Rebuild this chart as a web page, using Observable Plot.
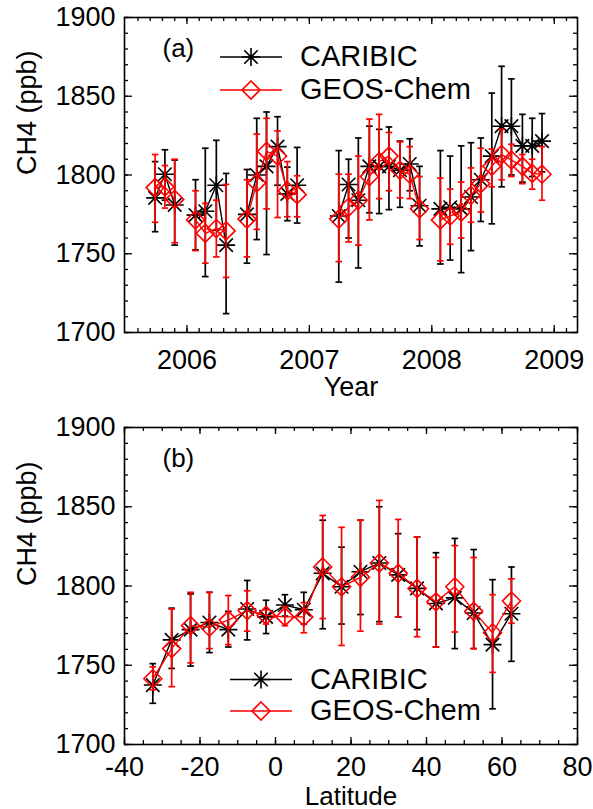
<!DOCTYPE html>
<html>
<head>
<meta charset="utf-8">
<script src="https://cdn.jsdelivr.net/npm/d3@7"></script>
<script src="https://cdn.jsdelivr.net/npm/@observablehq/plot@0.6"></script>
<style>
html, body { margin: 0; padding: 0; background: #fff; }
#chart { width: 593px; }
#chart svg { display: block; }
</style>
</head>
<body>
<div id="chart"></div>
<script>
// ---------- Panel (a): monthly means vs time (null = no data that month) ----------
const timeA = [2005.74, 2005.82, 2005.90, 2005.99, 2006.07, 2006.15, 2006.24, 2006.32, 2006.40,
  2006.49, 2006.57, 2006.65, 2006.74, 2006.82, 2006.90, 2006.99, 2007.07, 2007.15, 2007.24,
  2007.32, 2007.40, 2007.49, 2007.57, 2007.65, 2007.74, 2007.82, 2007.90, 2007.99, 2008.07,
  2008.15, 2008.24, 2008.32, 2008.40, 2008.49, 2008.57, 2008.65, 2008.74, 2008.82, 2008.90];
const caribicA = [1785.5, 1800.5, 1781, null, 1774.5, 1777, 1793.5, 1755.5, null,
  1775, 1800, 1805.5, 1818, 1788, 1793.5, null, null, null, 1774,
  1794, 1784, 1805.5, 1805.5, 1805.5, 1803, 1807, 1780.5, null, 1778.5,
  1779.5, 1778.5, 1786, 1797, 1812, 1831, 1831, 1818.5, 1818.5, 1821.5];
const caribicALo = [1764, 1784, 1755.5, null, 1752.5, 1735.5, 1765, 1712, null,
  1744, 1759, 1749.5, 1793.5, 1771, 1769.5, null, null, null, 1732,
  1760, 1741, 1776, 1775.5, 1778, 1779.5, 1790, 1755, null, 1743.5,
  1746, 1738, 1752, 1770.5, 1769, 1792.5, 1800, 1795.5, 1799, 1802];
const caribicAHi = [1808.5, 1816, 1809.5, null, 1797, 1817, 1822, 1801, null,
  1803.5, 1836, 1840, 1837, 1805, 1817.5, null, null, null, 1815.5,
  1810, 1823.5, 1831, 1829, 1830.5, 1821.5, 1823, 1805.5, null, 1815.5,
  1812, 1818.5, 1820.5, 1823.5, 1852, 1869, 1861, 1838.5, 1836, 1839];
const geosA = [1792, 1792.5, 1784.5, null, 1771.5, 1763, 1766, 1764.5, null,
  1772, 1795, 1815, 1812, 1790, 1787.5, null, null, null, 1772,
  1779.5, 1784, 1799, 1808.5, 1812, 1803, 1800.5, 1778.5, null, 1771.5,
  1774, 1776.5, 1787, 1794.5, 1805.5, 1813, 1809.5, 1805.5, 1801, 1800.5];
const geosALo = [1770, 1779, 1757, null, 1752, 1744, 1748, 1735, null,
  1748, 1765.5, 1778.5, 1773, 1773.5, 1773.5, null, null, null, 1745,
  1757.5, 1755.5, 1771.5, 1785, 1790, 1785.5, 1785, 1759, null, 1745.5,
  1756, 1760, 1770, 1776.5, 1792.5, 1797, 1799, 1794.5, 1791, 1784];
const geosAHi = [1813, 1806, 1810, null, 1790, 1782, 1784, 1794, null,
  1797, 1826, 1836, 1828, 1808.5, 1799.5, null, null, null, 1800.5,
  1800.5, 1812, 1835.5, 1838.5, 1827, 1821, 1818, 1799, null, 1798,
  1791, 1795.5, 1804.5, 1817, 1816.5, 1829, 1819.5, 1813, 1810, 1818];

// ---------- Panel (b): latitude bins ----------
const latB = [-32.5, -27.5, -22.5, -17.5, -12.5, -7.5, -2.5, 2.5, 7.5, 12.5,
  17.5, 22.5, 27.5, 32.5, 37.5, 42.5, 47.5, 52.5, 57.5, 62.5];
const caribicB = [1737.5, 1766, 1772.5, 1777, 1772.5, 1785.5, 1780.5, 1788, 1785, 1808,
  1799.5, 1809, 1814.5, 1807, 1798.5, 1789, 1792.5, 1783, 1763, 1782.5];
const caribicBLo = [1726, 1748, 1749.5, 1758, 1761.5, 1766, 1770, 1781, 1776, 1773,
  1776, 1782, 1777.5, 1780.5, 1772.5, 1761.5, 1760.5, 1760.5, 1722.5, 1752.5];
const caribicBHi = [1751, 1786, 1795, 1796, 1784, 1803.5, 1791, 1794.5, 1796, 1841.5,
  1824.5, 1841.5, 1850, 1833, 1831, 1821, 1830, 1823, 1804, 1812];
const geosB = [1741.5, 1760.5, 1775, 1774, 1778.5, 1784.5, 1781.5, 1780.5, 1780.5, 1812,
  1799.5, 1805.5, 1814.5, 1808, 1798.5, 1790, 1799.5, 1784, 1770.5, 1790.5];
const geosBLo = [1734.5, 1736.5, 1751.5, 1760.5, 1763, 1771.5, 1776, 1775, 1770.5, 1779.5,
  1762.5, 1771.5, 1776, 1780.5, 1768, 1761.5, 1771, 1760.5, 1745.5, 1776.5];
const geosBHi = [1749, 1785.5, 1796, 1796, 1794, 1797, 1785, 1787, 1789.5, 1844.5,
  1837, 1841.5, 1854, 1842, 1831, 1818, 1825.5, 1818, 1794.5, 1804.5];

// ---------- Axes / labels ----------
const yearTicks = [2006, 2007, 2008, 2009];
const latTicks = [-40, -20, 0, 20, 40, 60, 80];
const ch4Ticks = [1700, 1750, 1800, 1850, 1900];
const seriesNames = ["CARIBIC", "GEOS-Chem"];
const yTitle = "CH4 (ppb)";

// ---------- symbols ----------
const asterisk = {draw(ctx, size) {
  const r = Math.sqrt(size / Math.PI), d = r * 0.75;
  ctx.moveTo(-r, 0); ctx.lineTo(r, 0);
  ctx.moveTo(0, -r); ctx.lineTo(0, r);
  ctx.moveTo(-d, -d); ctx.lineTo(d, d);
  ctx.moveTo(-d, d); ctx.lineTo(d, -d);
}};
const diamond = {draw(ctx, size) {
  const r = Math.sqrt(size / Math.PI);
  ctx.moveTo(0, -r); ctx.lineTo(r, 0); ctx.lineTo(0, r); ctx.lineTo(-r, 0); ctx.closePath();
}};
const cap = {draw(ctx, size) {
  const r = Math.sqrt(size / Math.PI);
  ctx.moveTo(-r, 0); ctx.lineTo(r, 0);
}};

const FONT = "'Liberation Sans', Arial, Helvetica, sans-serif";
const FS = 27;
const W = 593, ML = 124, MR = 16;
const fmt = d => String(d);

function panel(o) {
  const innerH = o.height - o.marginTop - o.marginBottom;
  const innerW = W - ML - MR;
  const rows = o.x.map((x, i) => ({x, c: o.c[i], cLo: o.cLo[i], cHi: o.cHi[i], g: o.g[i], gLo: o.gLo[i], gHi: o.gHi[i]}));
  const id = d => d;
  const series = (key, lo, hi, color, sym) => {
    const valid = rows.filter(d => d[key] != null);
    return [
      Plot.ruleX(valid, {x: "x", y1: lo, y2: hi, stroke: color, strokeWidth: 1.7}),
      Plot.dot(valid, {x: "x", y: lo, symbol: cap, r: 3.3, stroke: color, strokeWidth: 1.7}),
      Plot.dot(valid, {x: "x", y: hi, symbol: cap, r: 3.3, stroke: color, strokeWidth: 1.7}),
      Plot.line(rows, {x: "x", y: key, stroke: color, strokeWidth: 1.4}),
      Plot.dot(valid, {x: "x", y: key, symbol: sym, r: o.symR, stroke: color, fill: "none", strokeWidth: 1.6})
    ];
  };
  const svg = Plot.plot({
    width: W, height: o.height,
    marginLeft: ML, marginRight: MR, marginTop: o.marginTop, marginBottom: o.marginBottom,
    x: {domain: o.xDomain},
    y: {domain: [1700, 1900]},
    style: {fontFamily: FONT, fontSize: FS + "px", color: "black", background: "white", overflow: "visible"},
    marks: [
      Plot.tickX(o.xMinor, {x: id, insetTop: innerH - 4, stroke: "black", strokeWidth: 1.3}),
      Plot.tickX(o.xMinor, {x: id, insetBottom: innerH - 4, stroke: "black", strokeWidth: 1.3}),
      Plot.tickX(o.xMajor, {x: id, insetTop: innerH - 7, stroke: "black", strokeWidth: 1.3}),
      Plot.tickX(o.xMajor, {x: id, insetBottom: innerH - 7, stroke: "black", strokeWidth: 1.3}),
      Plot.tickY(d3.range(1700, 1901, 10), {y: id, insetRight: innerW - 4, stroke: "black", strokeWidth: 1.3}),
      Plot.tickY(d3.range(1700, 1901, 10), {y: id, insetLeft: innerW - 4, stroke: "black", strokeWidth: 1.3}),
      Plot.tickY(ch4Ticks, {y: id, insetRight: innerW - 8, stroke: "black", strokeWidth: 1.3}),
      Plot.tickY(ch4Ticks, {y: id, insetLeft: innerW - 8, stroke: "black", strokeWidth: 1.3}),
      Plot.frame({stroke: "black", strokeWidth: 1.6}),
      Plot.axisX({ticks: o.xMajor, tickSize: 0, tickPadding: o.xPad, tickFormat: fmt, label: null, fontSize: FS}),
      Plot.axisY({ticks: ch4Ticks, tickSize: 0, tickPadding: 9, tickFormat: fmt, label: null, fontSize: FS}),
      Plot.text([o.xTitle], {text: id, frameAnchor: "bottom", lineAnchor: "bottom", dy: o.titleDy, fontSize: o.titleFS}),
      Plot.text([yTitle], {text: id, frameAnchor: "left", rotate: -90, dx: -97, fontSize: FS}),
      Plot.text([o.letter], {text: id, frameAnchor: "top-left", textAnchor: "start", lineAnchor: "bottom", dx: 38, dy: 39, fontSize: 26}),
      ...series("c", "cLo", "cHi", "black", asterisk),
      ...series("g", "gLo", "gHi", "#ff0000", diamond)
    ]
  });
  // legend (inside frame)
  const g = d3.select(svg).append("g")
    .attr("font-family", FONT).attr("font-size", 29).attr("text-anchor", "start");
  const syms = [asterisk, diamond];
  const colors = ["black", "#ff0000"];
  o.legendY.forEach((ly, i) => {
    g.append("line").attr("x1", o.legendX).attr("x2", o.legendX + 62).attr("y1", ly).attr("y2", ly)
      .attr("stroke", colors[i]).attr("stroke-width", 1.4);
    const p = d3.path(); syms[i].draw(p, o.symR * o.symR * Math.PI);
    g.append("path").attr("d", p.toString()).attr("transform", `translate(${o.legendX + 31},${ly})`)
      .attr("fill", "white").attr("fill-opacity", 0).attr("stroke", colors[i]).attr("stroke-width", 1.6);
    g.append("text").attr("x", o.legendX + 80).attr("y", ly + 9).attr("fill", "black")
      .attr("text-anchor", "start").text(seriesNames[i]);
  });
  return svg;
}

const chart = document.getElementById("chart");
chart.appendChild(panel({
  height: 405, marginTop: 17, marginBottom: 73,
  x: timeA, c: caribicA, cLo: caribicALo, cHi: caribicAHi, g: geosA, gLo: geosALo, gHi: geosAHi,
  xDomain: [2005.49, 2009.19], xMajor: yearTicks,
  xMinor: d3.range(2005.6, 2009.15, 0.1).map(v => +v.toFixed(1)),
  xPad: 17, titleDy: 63, titleFS: FS, xTitle: "Year", letter: "(a)", symR: 9,
  legendX: 220, legendY: [57, 90]
}));
chart.appendChild(panel({
  height: 404, marginTop: 22, marginBottom: 65,
  x: latB, c: caribicB, cLo: caribicBLo, cHi: caribicBHi, g: geosB, gLo: geosBLo, gHi: geosBHi,
  xDomain: [-40, 80], xMajor: latTicks,
  xMinor: d3.range(-40, 81, 5),
  xPad: 12, titleDy: 60, titleFS: 26, xTitle: "Latitude", letter: "(b)", symR: 9,
  legendX: 230, legendY: [274.5, 306]
}));
</script>
</body>
</html>
